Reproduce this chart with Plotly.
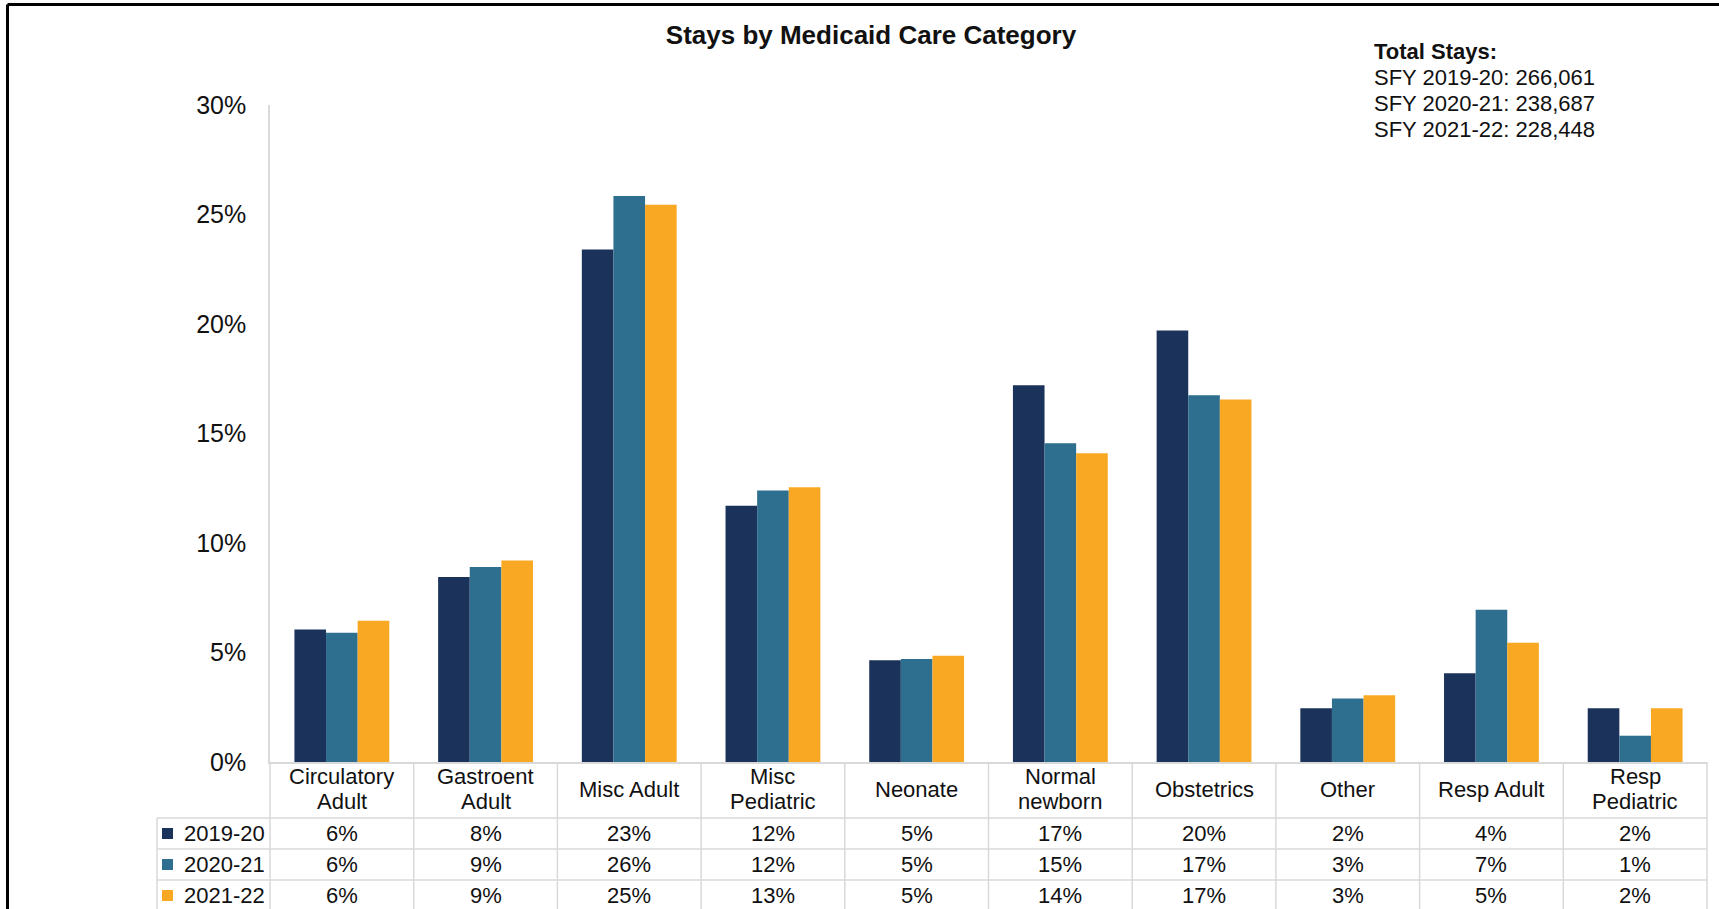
import plotly.graph_objects as go

# data
categories = ['Circulatory Adult', 'Gastroent Adult', 'Misc Adult', 'Misc Pediatric', 'Neonate',
              'Normal newborn', 'Obstetrics', 'Other', 'Resp Adult', 'Resp Pediatric']
header_labels = ['Circulatory<br>Adult', 'Gastroent<br>Adult', 'Misc Adult', 'Misc<br>Pediatric', 'Neonate',
                 'Normal<br>newborn', 'Obstetrics', 'Other', 'Resp Adult', 'Resp<br>Pediatric']
years = ['2019-20', '2020-21', '2021-22']
share_2019 = [6.05, 8.45, 23.4, 11.7, 4.65, 17.2, 19.7, 2.45, 4.05, 2.45]
share_2020 = [5.9, 8.9, 25.85, 12.4, 4.7, 14.55, 16.75, 2.9, 6.95, 1.2]
share_2021 = [6.45, 9.2, 25.45, 12.55, 4.85, 14.1, 16.55, 3.05, 5.45, 2.45]
total_stays = ['266,061', '238,687', '228,448']
y_ticks = [0, 5, 10, 15, 20, 25, 30]
colors = ['#1b325a', '#2e6e8e', '#f9a823']

series = [share_2019, share_2020, share_2021]

FONT = 'Liberation Sans, Arial, sans-serif'
GRID = '#d9d9d9'

# plot area in pixels: x 270..1707, y 105 (30%) .. 762 (0%)
L, R, T, B = 270, 1707, 105, 762


def px_y(p):
    return (B - p) / (B - T)


def px_x(p):
    return (p - L) / (R - L)


fig = go.Figure()
for yr, vals, col in zip(years, series, colors):
    fig.add_trace(go.Bar(x=categories, y=vals, name=yr, marker_color=col,
                         marker_line_width=0))

annotations = []
shapes = []

# header row (category names)
for cat, lab in zip(categories, header_labels):
    parts = lab.split('<br>')
    if len(parts) == 1:
        ys = [789]
    else:
        ys = [776.5, 801.5]
    for part, yy in zip(parts, ys):
        annotations.append(dict(x=cat, xref='x', y=px_y(yy), yref='paper', text=part,
                                showarrow=False, xanchor='center', yanchor='middle',
                                font=dict(size=22, color='#111', family=FONT)))

# value rows
row_centers = [833.5, 864.5, 895.5]
for yr, vals, col, yc in zip(years, series, colors, row_centers):
    for cat, v in zip(categories, vals):
        annotations.append(dict(x=cat, xref='x', y=px_y(yc), yref='paper',
                                text=f'{round(v):.0f}%', showarrow=False,
                                xanchor='center', yanchor='middle',
                                font=dict(size=22, color='#111', family=FONT)))
    annotations.append(dict(x=px_x(182), xref='paper', y=px_y(yc), yref='paper', text=yr,
                            showarrow=False, xanchor='left', yanchor='middle',
                            font=dict(size=22, color='#111', family=FONT)))
    shapes.append(dict(type='rect', xref='paper', yref='paper',
                       x0=px_x(162), x1=px_x(173), y0=px_y(yc - 5.5), y1=px_y(yc + 5.5),
                       fillcolor=col, line=dict(width=0)))

# table grid
n = len(categories)
leg_left = px_x(157)
for k in range(n + 1):
    shapes.append(dict(type='line', xref='paper', yref='paper', x0=k / n, x1=k / n,
                       y0=px_y(762), y1=px_y(911), line=dict(color=GRID, width=1.5)))
shapes.append(dict(type='line', xref='paper', yref='paper', x0=leg_left, x1=leg_left,
                   y0=px_y(818), y1=px_y(911), line=dict(color=GRID, width=1.5)))
for yy in [818, 849, 880, 911]:
    shapes.append(dict(type='line', xref='paper', yref='paper', x0=leg_left, x1=1,
                       y0=px_y(yy), y1=px_y(yy), line=dict(color=GRID, width=1.5)))

# outer border (top and left)
shapes.append(dict(type='line', xref='paper', yref='paper', x0=px_x(7.5), x1=px_x(1725),
                   y0=px_y(4.5), y1=px_y(4.5), line=dict(color='black', width=3)))
shapes.append(dict(type='line', xref='paper', yref='paper', x0=px_x(7.5), x1=px_x(7.5),
                   y0=px_y(4.5), y1=px_y(915), line=dict(color='black', width=3)))

# total stays note
annotations.append(dict(x=px_x(1372), xref='paper', y=px_y(52), yref='paper',
                        text='<b>Total Stays:</b>', showarrow=False, xanchor='left',
                        yanchor='middle', font=dict(size=22, color='#111', family=FONT)))
for i, (yr, tot) in enumerate(zip(years, total_stays)):
    annotations.append(dict(x=px_x(1372), xref='paper', y=px_y(77.7 + 25.7 * i), yref='paper',
                            text=f'SFY {yr}: {tot}', showarrow=False, xanchor='left',
                            yanchor='middle', font=dict(size=22, color='#111', family=FONT)))

fig.update_layout(
    width=1719, height=909,
    title=dict(text='<b>Stays by Medicaid Care Category</b>', x=871 / 1719, xanchor='center',
               y=1 - 35 / 909, yanchor='middle', font=dict(size=26, color='#111', family=FONT)),
    font=dict(family=FONT, color='#111'),
    paper_bgcolor='white', plot_bgcolor='white',
    barmode='group', bargap=0.34, bargroupgap=0,
    showlegend=False,
    margin=dict(l=L, r=1719 - R, t=T, b=909 - B),
    annotations=annotations, shapes=shapes,
)
fig.update_xaxes(showticklabels=False, showline=True, linecolor=GRID, linewidth=1.5,
                 showgrid=False, ticks='')
fig.update_yaxes(range=[0, 30], tickmode='array', tickvals=y_ticks,
                 ticktext=[f'{t}%' for t in y_ticks],
                 showline=True, linecolor=GRID, linewidth=1.5, showgrid=False, zeroline=False,
                 ticks='', ticklabelstandoff=17, tickfont=dict(size=25, color='#111', family=FONT))

fig.write_html('out.html', config={'displayModeBar': False},
               post_script="document.body.style.margin='0';document.body.style.overflow='hidden';")
